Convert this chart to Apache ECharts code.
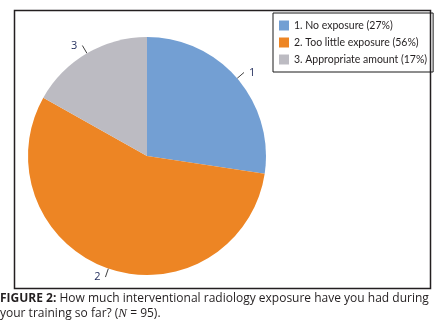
<!DOCTYPE html>
<html><head><meta charset="utf-8">
<script src="https://cdn.jsdelivr.net/npm/echarts@6/dist/echarts.min.js"></script>
<style>html,body{margin:0;padding:0;background:#fff}#c{width:442px;height:329px}</style>
</head><body><div id="c"></div>
<script>
const categories = ['No exposure', 'Too little exposure', 'Appropriate amount'];
const counts = [26, 53, 16];
const legendPercents = [27, 56, 17];
const colors = ['#739fd3', '#ed8524', '#bcbbc2'];

const chart = echarts.init(document.getElementById('c'));
const names = categories.map((c, i) => (i + 1) + '. ' + c + ' (' + legendPercents[i] + '%)');
chart.setOption({
  animation: false,
  color: colors,
  title: {
    left: 0, top: 291,
    text: '{b|FIGURE 2:} How much interventional radiology exposure have you had during\nyour training so far? ({i|N} = 95).',
    textStyle: {
      fontFamily: 'Open Sans', fontSize: 12, fontWeight: 'normal', color: '#231f20', lineHeight: 15,
      rich: {
        b: {fontFamily: 'Open Sans', fontSize: 12, fontWeight: 'bold', color: '#231f20'},
        i: {fontFamily: 'Liberation Serif', fontSize: 13, fontStyle: 'italic', color: '#231f20'}
      }
    },
    padding: 0
  },
  legend: {
    orient: 'vertical', left: 273, top: 13,
    itemWidth: 10, itemHeight: 10, itemGap: 6,
    borderColor: '#1a1a1a', borderWidth: 1,
    padding: [7, 6, 7, 6],
    icon: 'rect',
    textStyle: {fontFamily: 'Lato', fontSize: 10.5, color: '#231f20'},
    data: names
  },
  graphic: [{
    type: 'rect', left: 12, top: 8,
    shape: {width: 416, height: 278},
    style: {fill: 'none', stroke: '#231f20', lineWidth: 1.5}
  }],
  series: [{
    type: 'pie',
    center: [147, 156], radius: 119,
    startAngle: 90, clockwise: true,
    itemStyle: {borderWidth: 0},
    label: {
      position: 'outside', formatter: p => String(p.dataIndex + 1),
      fontFamily: 'Open Sans', fontSize: 11, color: '#1f2a5a'
    },
    labelLine: {length: 9, length2: 0, lineStyle: {color: '#404040', width: 1}},
    data: names.map((n, i) => ({name: n, value: counts[i]}))
  }]
});
</script></body></html>
